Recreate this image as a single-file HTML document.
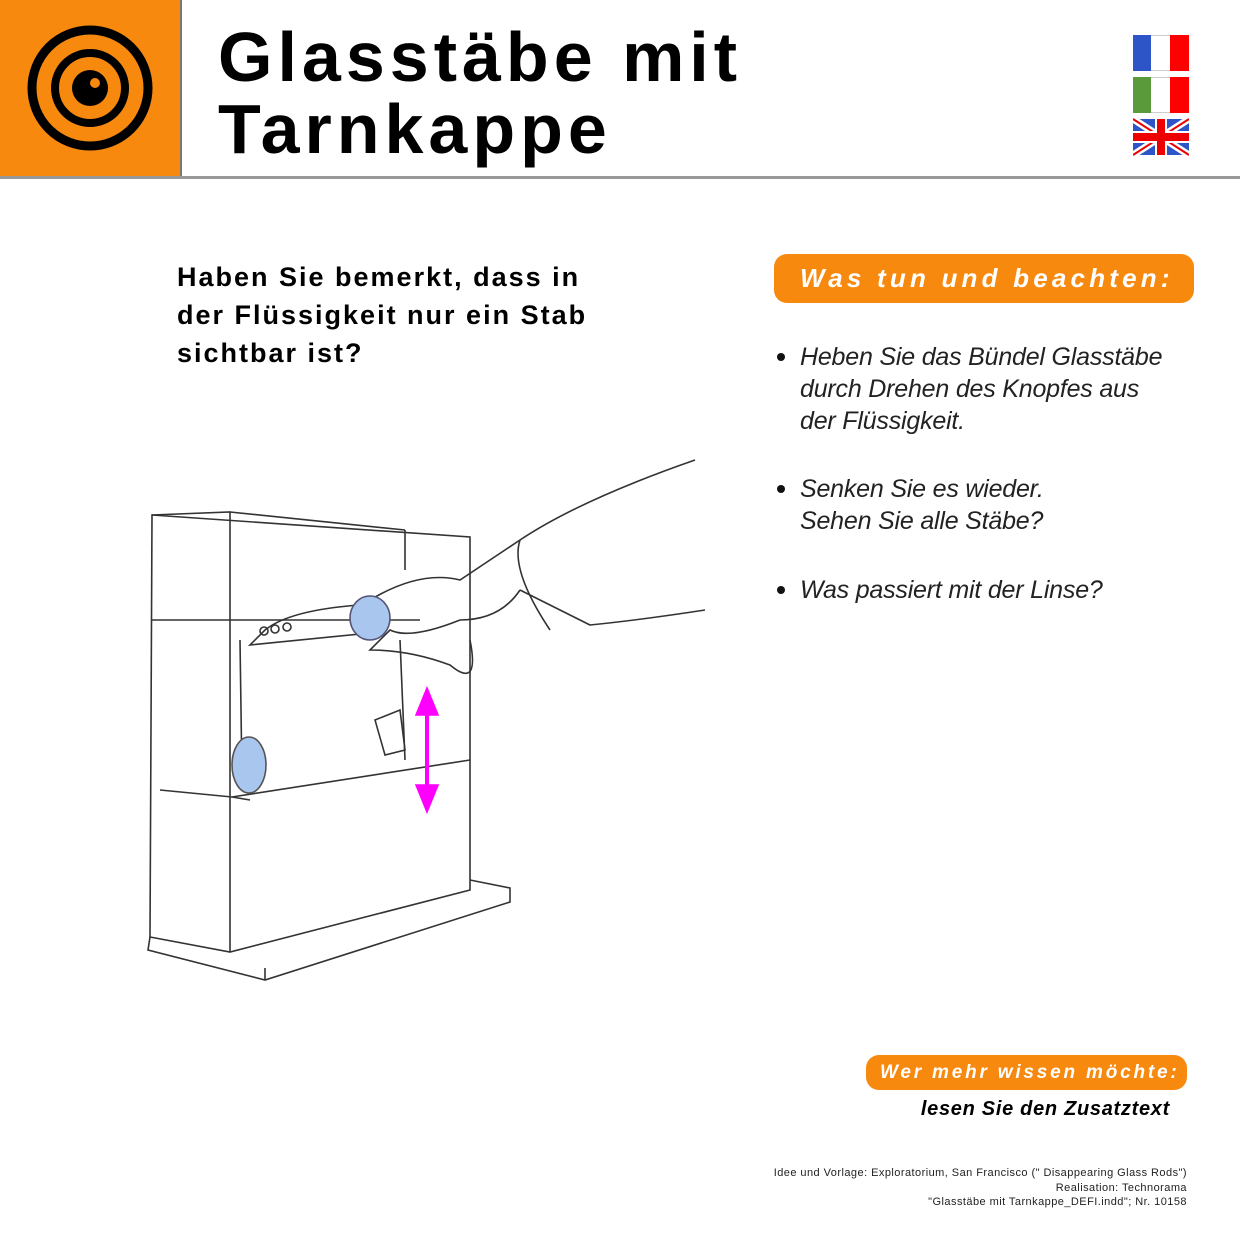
<!DOCTYPE html>
<html><head><meta charset="utf-8"><style>
body{margin:0;width:1240px;height:1240px;background:#fff;position:relative;overflow:hidden;font-family:"Liberation Sans",sans-serif}
.a{position:absolute;white-space:nowrap}
.t{font-weight:bold;font-size:70px;letter-spacing:5px;line-height:70px;left:218px}
.q{left:177px;font-weight:bold;font-size:27px;letter-spacing:2px;line-height:38px;top:258px}
.pill{position:absolute;background:#f7890f;border-radius:13px;color:#fff;font-style:italic;font-weight:bold}
.b{left:800px;font-style:italic;font-size:25px;line-height:32px;color:#222;letter-spacing:-0.2px}
.d{position:absolute;left:777px;width:8px;height:8px;border-radius:50%;background:#111}
.f{right:53px;font-size:11px;text-align:right;line-height:14.5px;top:1166px;color:#222;letter-spacing:0.45px}
</style></head><body>
<div style="position:absolute;left:0;top:0;width:180px;height:177px;background:#f7890f"></div>
<div style="position:absolute;left:180px;top:0;width:2px;height:177px;background:#777"></div>
<div style="position:absolute;left:0;top:176px;width:1240px;height:3px;background:#999"></div>
<svg class="a" style="left:0;top:0" width="180" height="177">
<circle cx="90" cy="88" r="58" fill="none" stroke="#000" stroke-width="9"/>
<circle cx="90" cy="88" r="35" fill="none" stroke="#000" stroke-width="8"/>
<circle cx="90" cy="88" r="18" fill="#000"/>
<circle cx="95" cy="83" r="5" fill="#f7890f"/>
</svg>
<div class="a t" style="top:22px">Glasstäbe mit</div>
<div class="a t" style="top:94px">Tarnkappe</div>
<svg class="a" style="left:1133px;top:35px" width="56" height="122">
<rect x="0.5" y="0.5" width="55" height="35" fill="#fff" stroke="#ccc"/>
<rect x="0" y="0" width="18" height="36" fill="#2d55c8"/><rect x="37" y="0" width="19" height="36" fill="#f00"/>
<rect x="0.5" y="42.5" width="55" height="35" fill="#fff" stroke="#ccc"/>
<rect x="0" y="42" width="18" height="36" fill="#5a9a3a"/><rect x="37" y="42" width="19" height="36" fill="#f00"/>
<rect x="0" y="84" width="56" height="36" fill="#2d55c8"/>
<path d="M0 84L56 120M56 84L0 120" stroke="#fff" stroke-width="7"/>
<path d="M0 84L56 120M56 84L0 120" stroke="#e00" stroke-width="2"/>
<rect x="22" y="84" width="12" height="36" fill="#fff"/><rect x="0" y="96" width="56" height="12" fill="#fff"/>
<rect x="24" y="84" width="8" height="36" fill="#e00"/><rect x="0" y="98" width="56" height="8" fill="#e00"/>
</svg>
<div class="a q">Haben Sie bemerkt, dass in<br>der Flüssigkeit nur ein Stab<br>sichtbar ist?</div>
<div class="pill" style="left:774px;top:254px;width:420px;height:49px;font-size:26px;line-height:49px;letter-spacing:4.2px;text-indent:26px">Was tun und beachten:</div>
<div class="d" style="top:353px"></div><div class="a b" style="top:341px">Heben Sie das Bündel Glasstäbe<br>durch Drehen des Knopfes aus<br>der Flüssigkeit.</div>
<div class="d" style="top:485px"></div><div class="a b" style="top:473px">Senken Sie es wieder.<br>Sehen Sie alle Stäbe?</div>
<div class="d" style="top:586px"></div><div class="a b" style="top:574px">Was passiert mit der Linse?</div>
<svg class="a" style="left:120px;top:440px" width="600" height="560" fill="none" stroke="#333" stroke-width="1.6">
<path d="M32 75L350 97L350 450L110 512L30 497Z"/>
<path d="M32 75L110 72L110 512M110 72L285 90"/>
<path d="M30 497L28 510L145 540L390 462L390 448L350 440"/>
<path d="M145 540L145 528"/>
<path d="M40 350L112 357L350 320M112 357L130 360"/>
<path d="M32 180L300 180M285 90L285 130"/>
<path d="M120 200L122 340M280 200L285 320"/>
<path d="M145 190Q170 170 240 165L250 193L130 205Z"/>
<circle cx="144" cy="191" r="4"/><circle cx="155" cy="189" r="4"/><circle cx="167" cy="187" r="4"/>
<path d="M250 160Q300 130 340 140L400 100Q460 60 575 20M400 150Q380 180 340 180Q290 200 270 190L250 210Q290 210 330 225Q360 250 350 200M400 150L470 185Q520 180 585 170"/>
<path d="M400 100Q390 130 430 190"/>
<path d="M255 280L280 270L285 310L265 315Z"/>
<ellipse cx="129" cy="325" rx="17" ry="28" fill="#a8c6ee" stroke="#555"/>
<ellipse cx="250" cy="178" rx="20" ry="22" fill="#a8c6ee" stroke="#557"/>
<path d="M307 255L307 360" stroke="#f0f" stroke-width="4"/>
<path d="M296 275L307 248L318 275ZM296 345L307 372L318 345Z" fill="#f0f" stroke="#f0f"/>
</svg>
<div class="pill" style="left:866px;top:1055px;width:321px;height:35px;font-size:19px;line-height:35px;letter-spacing:2.8px;text-indent:14px">Wer mehr wissen möchte:</div>
<div class="a" style="right:70px;top:1098px;font-size:20px;font-style:italic;font-weight:bold;letter-spacing:0.7px">lesen Sie den Zusatztext</div>
<div class="a f">Idee und Vorlage: Exploratorium, San Francisco (" Disappearing Glass Rods")<br>Realisation: Technorama<br>"Glasstäbe mit Tarnkappe_DEFI.indd"; Nr. 10158</div>
</body></html>
